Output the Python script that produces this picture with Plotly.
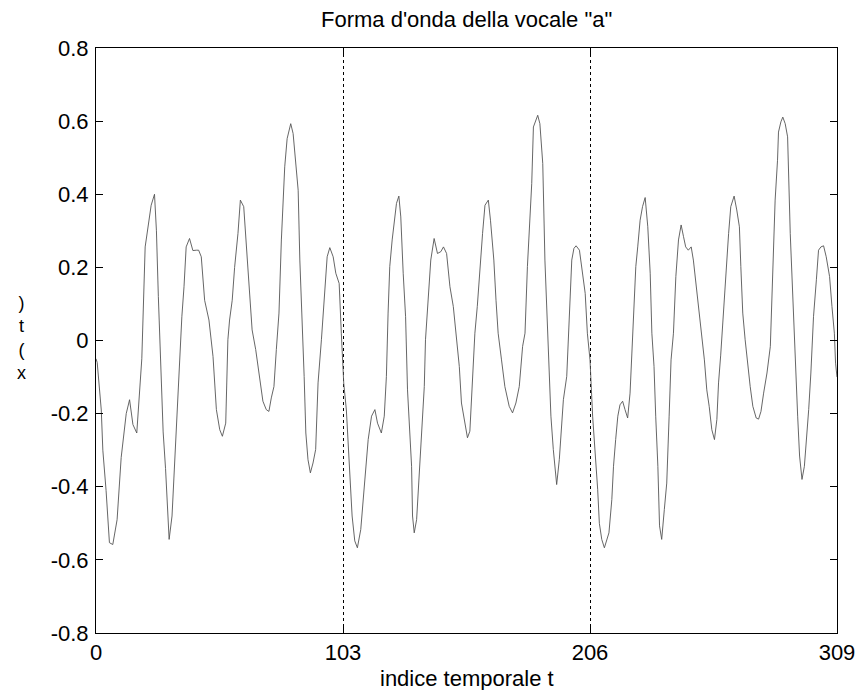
import plotly.graph_objects as go

# Sample index (t) and amplitude x(t)
t = [0, 0.5, 2.2, 2.85, 4.2, 5.6, 7.0, 8.8, 10.5, 12.6, 14.0, 15.4, 17.0, 18.2, 19.1,
     20.5, 21.6, 23.0, 24.4, 25.2, 26.0, 27.0, 28.0, 29.0, 30.0, 30.5, 31.7, 32.8, 33.8,
     34.9, 35.8, 36.7, 37.6, 39.0, 40.4, 41.8, 42.8, 43.9, 45.3, 47.1, 48.8, 50.2, 51.6,
     52.7, 54.1, 55.0, 55.7, 56.8, 57.8, 59.2, 60.2, 61.6, 62.7, 63.8, 65.1, 66.6, 68.0,
     69.6, 71.0, 72.1, 73.1, 74.2, 75.2, 76.3, 77.3, 78.0, 78.7, 79.7, 81.2, 82.2, 83.3,
     84.3, 85.0, 86.1, 86.8, 87.5, 88.4, 89.4, 90.5, 91.6, 92.6, 94.0, 95.4, 96.4, 97.5,
     98.9, 100.0, 101.4, 102.3, 103.3, 104.4, 105.8, 106.8, 107.9, 109.0, 110.4, 111.4,
     112.4, 113.5, 114.9, 116.3, 117.4, 119.0, 120.2, 121.1, 121.8, 122.5, 123.5, 124.6,
     125.3, 126.3, 127.1, 128.1, 129.1, 129.9, 130.9, 131.6, 132.0, 132.7, 133.7, 134.6,
     135.7, 136.9, 137.4, 138.5, 139.6, 141.0, 142.4, 143.8, 144.9, 146.2, 147.6, 149.0,
     150.4, 151.5, 152.4, 153.8, 154.9, 155.9, 156.6, 157.3, 158.0, 159.0, 160.1, 161.2,
     162.2, 163.6, 164.5, 165.9, 166.8, 167.7, 169.1, 170.5, 172.3, 173.7, 175.1, 176.5,
     177.9, 178.9, 179.9, 180.7, 181.7, 182.4, 183.1, 184.2, 185.1, 186.3, 187.2, 188.2,
     189.0, 189.7, 190.7, 191.4, 192.1, 193.2, 194.2, 194.9, 196.3, 197.0, 197.7, 198.4,
     199.3, 200.2, 201.6, 203.0, 204.0, 204.9, 206.0, 207.1, 208.1, 209.2, 209.9, 210.9,
     212.0, 213.0, 213.9, 215.1, 215.8, 216.7, 217.6, 218.5, 219.6, 220.6, 221.7, 222.7,
     223.4, 224.5, 225.1, 225.9, 226.9, 227.9, 229.0, 230.1, 231.1, 231.8, 232.7, 233.4,
     234.3, 235.0, 235.9, 237.0, 238.0, 239.0, 239.8, 240.8, 241.8, 242.9, 244.0, 245.0,
     245.9, 247.0, 248.2, 249.1, 250.3, 251.5, 252.6, 253.7, 254.7, 255.7, 256.8, 257.9,
     258.9, 259.6, 260.5, 261.3, 262.0, 262.8, 263.8, 264.7, 266.1, 267.2, 268.3, 268.9,
     269.7, 270.7, 271.7, 272.8, 273.9, 275.3, 276.3, 277.3, 278.4, 279.8, 281.2, 281.8,
     282.5, 283.2, 284.2, 284.6, 285.6, 286.4, 287.4, 288.4, 289.5, 290.6, 291.6, 292.6,
     293.4, 294.4, 295.4, 296.2, 297.2, 298.1, 299.2, 300.4, 301.3, 302.3, 303.4, 304.5,
     305.9, 306.9, 307.9, 308.4, 309.0]

x = [-0.05, -0.06, -0.19, -0.30, -0.41, -0.553, -0.558, -0.49, -0.32, -0.20, -0.162, -0.23,
     -0.253, -0.15, -0.05, 0.256, 0.31, 0.37, 0.40, 0.30, 0.12, -0.04, -0.25, -0.35, -0.47,
     -0.544, -0.48, -0.33, -0.20, -0.07, 0.065, 0.147, 0.256, 0.279, 0.246, 0.247, 0.247,
     0.229, 0.11, 0.056, -0.044, -0.189, -0.244, -0.262, -0.226, 0.002, 0.056, 0.11, 0.20,
     0.293, 0.384, 0.366, 0.266, 0.175, 0.029, -0.025, -0.098, -0.166, -0.189, -0.194,
     -0.157, -0.126, -0.025, 0.075, 0.275, 0.366, 0.475, 0.552, 0.593, 0.566, 0.493, 0.411,
     0.22, 0.038, -0.098, -0.253, -0.326, -0.362, -0.335, -0.298, -0.116, 0.002, 0.129,
     0.229, 0.254, 0.229, 0.184, 0.156, 0.02, -0.116, -0.19, -0.34, -0.48, -0.548, -0.567,
     -0.517, -0.435, -0.344, -0.271, -0.207, -0.189, -0.226, -0.253, -0.207, -0.098, 0.075,
     0.202, 0.275, 0.347, 0.375, 0.395, 0.338, 0.184, 0.065, -0.135, -0.253, -0.344, -0.48,
     -0.526, -0.49, -0.39, -0.28, -0.126, 0.002, 0.11, 0.22, 0.279, 0.238, 0.243, 0.256,
     0.238, 0.147, 0.093, 0.002, -0.071, -0.171, -0.226, -0.266, -0.248, -0.162, -0.044,
     0.02, 0.093, 0.202, 0.293, 0.37, 0.384, 0.329, 0.22, 0.11, 0.02, -0.053, -0.126, -0.18,
     -0.198, -0.171, -0.126, -0.016, 0.02, 0.202, 0.311, 0.429, 0.584, 0.598, 0.616, 0.593,
     0.484, 0.22, 0.038, -0.071, -0.207, -0.298, -0.344, -0.394, -0.326, -0.235, -0.162,
     -0.098, 0.02, 0.129, 0.22, 0.252, 0.259, 0.247, 0.184, 0.129, 0.02, -0.053, -0.207,
     -0.30, -0.407, -0.50, -0.544, -0.567, -0.544, -0.526, -0.435, -0.344, -0.271, -0.207,
     -0.176, -0.166, -0.189, -0.212, -0.144, -0.035, 0.11, 0.202, 0.256, 0.329, 0.366,
     0.391, 0.311, 0.184, 0.02, -0.071, -0.207, -0.344, -0.507, -0.544, -0.462, -0.39,
     -0.207, -0.053, 0.02, 0.175, 0.275, 0.316, 0.284, 0.256, 0.247, 0.256, 0.22, 0.147,
     0.075, 0.02, -0.053, -0.135, -0.18, -0.244, -0.271, -0.216, -0.116, -0.04, 0.04, 0.129,
     0.22, 0.293, 0.366, 0.395, 0.357, 0.311, 0.202, 0.075, 0.002, -0.062, -0.126, -0.18,
     -0.212, -0.215, -0.194, -0.144, -0.089, -0.016, 0.11, 0.247, 0.384, 0.493, 0.57, 0.598,
     0.611, 0.593, 0.557, 0.293, 0.11, -0.071, -0.207, -0.316, -0.38, -0.344, -0.28, -0.189,
     -0.089, 0.065, 0.166, 0.247, 0.256, 0.259, 0.229, 0.175, 0.093, 0.02, -0.062, -0.1]

x_ticks = [0, 103, 206, 309]
x_tick_labels = ["0", "103", "206", "309"]
y_ticks = [-0.8, -0.6, -0.4, -0.2, 0, 0.2, 0.4, 0.6, 0.8]
y_tick_labels = ["-0.8", "-0.6", "-0.4", "-0.2", "0", "0.2", "0.4", "0.6", "0.8"]

title_text = 'Forma d\'onda della vocale "a"'
x_label = "indice temporale t"
y_label = ")<br>t<br>(<br>x"

FONT = "Liberation Sans, Arial, Helvetica, sans-serif"
FS = 22

fig = go.Figure()
fig.add_trace(go.Scatter(x=t, y=x, mode="lines",
                         line=dict(color="#555555", width=0.9),
                         hoverinfo="skip", showlegend=False))

axis_common = dict(showline=True, linecolor="black", linewidth=1, mirror="ticks",
                   ticks="inside", ticklen=7, tickwidth=1, tickcolor="black",
                   zeroline=False, automargin=False,
                   tickfont=dict(family=FONT, size=FS, color="black"))

fig.update_xaxes(range=[0, 309], tickmode="array", tickvals=x_ticks, ticktext=x_tick_labels,
                 showgrid=True, gridcolor="black", griddash="dot", gridwidth=1,
                 ticklabelstandoff=0, **axis_common)
fig.update_yaxes(range=[-0.8, 0.8], tickmode="array", tickvals=y_ticks, ticktext=y_tick_labels,
                 showgrid=False, ticklabelstandoff=2, **axis_common)

fig.update_layout(
    width=859, height=690,
    margin=dict(l=96, r=22, t=48, b=57, pad=0, autoexpand=False),
    paper_bgcolor="white", plot_bgcolor="white",
    font=dict(family=FONT, size=FS, color="black"),
    annotations=[
        dict(text=title_text, xref="paper", yref="paper", x=0.5, y=1.0, yshift=29,
             xanchor="center", yanchor="middle", showarrow=False,
             font=dict(family=FONT, size=FS, color="black")),
        dict(text=x_label, xref="paper", yref="paper", x=0.5, y=0.0, yshift=-45,
             xanchor="center", yanchor="middle", showarrow=False,
             font=dict(family=FONT, size=FS, color="black")),
        dict(text=y_label, xref="paper", yref="paper", x=0.0, xshift=-75, y=0.504,
             xanchor="center", yanchor="middle", showarrow=False, align="center",
             font=dict(family=FONT, size=18, color="black")),
    ],
)

fig.write_html("out.html")
